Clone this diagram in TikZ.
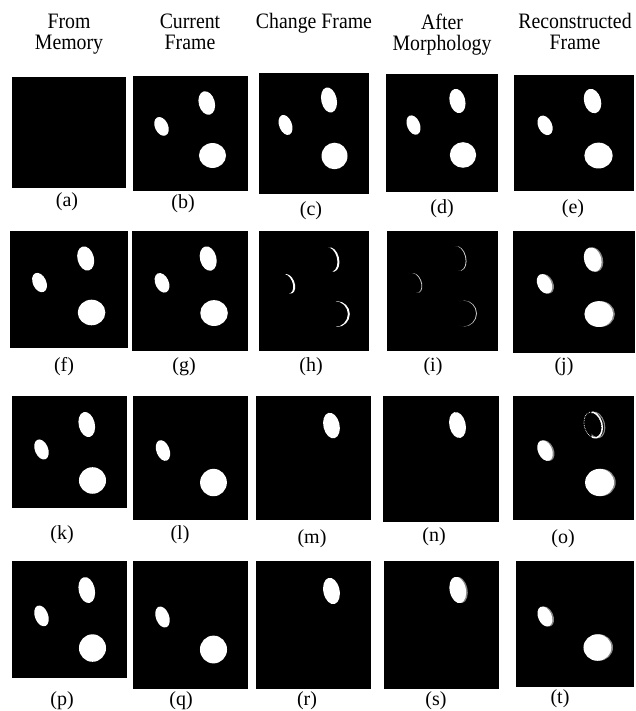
\documentclass[tikz,border=0pt]{standalone}
\usepackage{fontspec}
\setmainfont{Liberation Serif}
\newfontfamily\headfont{Liberation Serif}[FakeStretch=0.9]

% blob outlines in a 100 x 100 frame, #1 = shift to the right
\newcommand{\toppath}[1]{(64.5+#1,23.5) ellipse [x radius=7, y radius=10.5, rotate=15]}
\newcommand{\smallpath}[1]{(25+#1,44) ellipse [x radius=5.7, y radius=8.7, rotate=25]}
\newcommand{\bigpath}[1]{(69.5+#1,69.5) ellipse [x radius=11.8, y radius=10.9]}

\begin{document}
\begin{tikzpicture}[x=1pt, y=-1pt,
  head/.style={align=center, anchor=north, inner sep=0pt,
    font=\headfont\fontsize{22}{21}\selectfont},
  sublabel/.style={font=\fontsize{20}{22}\selectfont},
  blob/.style={fill=white},
  ghost/.style={fill=gray!95}]
  \useasboundingbox[fill=white] (0,0) rectangle (635,711);

  % column headers
  \node[head] (hmem) at (69,13.5) {From\\Memory};
  \node[head] (hcur) at (190,13.5) {Current\\Frame};
  \node[head] (hchg) at (314,13.5) {Change Frame};
  \node[head] (hmor) at (442,13.5) {After\\Morphology};
  \node[head] (hrec) at (575,13.5) {Reconstructed\\Frame};

  % row 1
  \fill (12,77) rectangle (126,188);
  \fill (133,76) rectangle (248,191);
  \begin{scope}[shift={(132.85,76.2)}, xscale=1.146, yscale=1.141]
    \fill[blob] \toppath{0} \smallpath{0} \bigpath{0};
  \end{scope}
  \fill (259,73) rectangle (369,194);
  \begin{scope}[shift={(258,71.4)}, xscale=1.101, yscale=1.217]
    \fill[blob] \toppath{0} \smallpath{0} \bigpath{0};
  \end{scope}
  \fill (386,74) rectangle (498,192);
  \begin{scope}[shift={(385.7,73.4)}, xscale=1.112, yscale=1.174]
    \fill[blob] \toppath{0} \smallpath{0} \bigpath{0};
  \end{scope}
  \fill (514,75) rectangle (634,191);
  \begin{scope}[shift={(515,73.2)}, xscale=1.202, yscale=1.185]
    \fill[blob] \toppath{0} \smallpath{0} \bigpath{0};
  \end{scope}
  \node[sublabel] (la) at (67,202) {(a)};
  \node[sublabel] (lb) at (183,204) {(b)};
  \node[sublabel] (lc) at (311,211) {(c)};
  \node[sublabel] (ld) at (442,209) {(d)};
  \node[sublabel] (le) at (573,209) {(e)};

  % row 2
  \fill (10,231) rectangle (128,348);
  \begin{scope}[shift={(10.3,230.9)}, xscale=1.169, yscale=1.174]
    \fill[blob] \toppath{0} \smallpath{0} \bigpath{0};
  \end{scope}
  \fill (132,231) rectangle (248,351);
  \begin{scope}[shift={(132.8,230.7)}, xscale=1.169, yscale=1.185]
    \fill[blob] \toppath{0} \smallpath{0} \bigpath{0};
  \end{scope}
  \fill (259,231) rectangle (369,351);
  \begin{scope}[shift={(259,231.7)}, xscale=1.093, yscale=1.185]
    \clip \toppath{1.8} \smallpath{1.8} \bigpath{1.8};
    \fill[white, even odd rule] (0,0) rectangle (100,100) \toppath{0} \smallpath{0} \bigpath{0};
  \end{scope}
  \fill (387,231) rectangle (498,351);
  \begin{scope}[shift={(387.2,230.4)}, xscale=1.093, yscale=1.196]
    \clip \toppath{0.8} \smallpath{0.8} \bigpath{0.8};
    \fill[gray!40!white, even odd rule] (0,0) rectangle (100,100) \toppath{0} \smallpath{0} \bigpath{0};
  \end{scope}
  \fill (513,231) rectangle (635,353);
  \begin{scope}[shift={(514,231.7)}, xscale=1.22, yscale=1.185]
    \fill[ghost] \toppath{1.4} \smallpath{1.4} \bigpath{1.4};
    \fill[blob] \toppath{0} \smallpath{0} \bigpath{0};
  \end{scope}
  \node[sublabel] (lf) at (64,367) {(f)};
  \node[sublabel] (lg) at (184,367) {(g)};
  \node[sublabel] (lh) at (311,367) {(h)};
  \node[sublabel] (li) at (433,367) {(i)};
  \node[sublabel] (lj) at (564,367) {(j)};

  % row 3
  \fill (12,396) rectangle (127,508);
  \begin{scope}[shift={(12.85,395.9)}, xscale=1.146, yscale=1.217]
    \fill[blob] \toppath{0} \smallpath{0} \bigpath{0};
  \end{scope}
  \fill (133,396) rectangle (248,520);
  \begin{scope}[shift={(134.6,395.3)}, xscale=1.135, yscale=1.255]
    \fill[blob] \smallpath{0} \bigpath{0};
  \end{scope}
  \fill (256,396) rectangle (371,520);
  \begin{scope}[shift={(257.3,396.4)}, xscale=1.15, yscale=1.24]
    \fill[blob] \toppath{0};
  \end{scope}
  \fill (383,396) rectangle (499,522);
  \begin{scope}[shift={(382.7,395.4)}, xscale=1.16, yscale=1.26]
    \fill[blob] \toppath{0};
  \end{scope}
  \fill (513,396) rectangle (634,520);
  \begin{scope}[shift={(514.4,395.6)}, xscale=1.225, yscale=1.25]
    \fill[ghost] \smallpath{1.4} \bigpath{1.4};
    \fill[blob] \smallpath{0} \bigpath{0};
    \draw[white, densely dotted, line width=0.7] \toppath{-0.5};
    \begin{scope}
      \clip (63,0) rectangle (100,50);
      \draw[gray!95, line width=1.1] \toppath{2};
      \draw[white, line width=1.4] \toppath{0};
    \end{scope}
  \end{scope}
  \node[sublabel] (lk) at (62,535) {(k)};
  \node[sublabel] (ll) at (180,535) {(l)};
  \node[sublabel] (lm) at (312,539) {(m)};
  \node[sublabel] (ln) at (434,537) {(n)};
  \node[sublabel] (lo) at (563,539) {(o)};

  % row 4
  \fill (12,561) rectangle (127,678);
  \begin{scope}[shift={(12.85,560.4)}, xscale=1.146, yscale=1.261]
    \fill[blob] \toppath{0} \smallpath{0} \bigpath{0};
  \end{scope}
  \fill (133,561) rectangle (248,689);
  \begin{scope}[shift={(133.85,560.9)}, xscale=1.146, yscale=1.275]
    \fill[blob] \smallpath{0} \bigpath{0};
  \end{scope}
  \fill (256,561) rectangle (371,689);
  \begin{scope}[shift={(257.3,560.9)}, xscale=1.15, yscale=1.28]
    \fill[blob] \toppath{0};
  \end{scope}
  \fill (384,561) rectangle (499,689);
  \begin{scope}[shift={(383.6,559.9)}, xscale=1.15, yscale=1.28]
    \fill[ghost] \toppath{1.4};
    \fill[blob] \toppath{0};
  \end{scope}
  \fill (516,561) rectangle (634,687);
  \begin{scope}[shift={(515.4,563)}, xscale=1.18, yscale=1.216]
    \fill[ghost] \smallpath{1.4} \bigpath{1.4};
    \fill[blob] \smallpath{0} \bigpath{0};
  \end{scope}
  \node[sublabel] (lp) at (62,701) {(p)};
  \node[sublabel] (lq) at (181,701) {(q)};
  \node[sublabel] (lr) at (307,701) {(r)};
  \node[sublabel] (ls) at (436,701) {(s)};
  \node[sublabel] (lt) at (560,699) {(t)};
\end{tikzpicture}
\end{document}
